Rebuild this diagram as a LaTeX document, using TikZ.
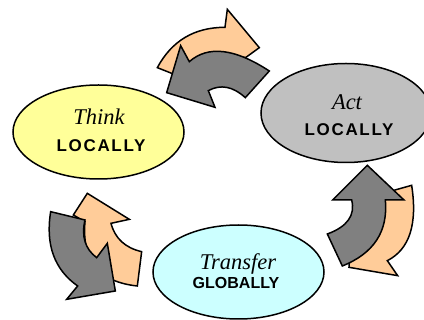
\documentclass[tikz,border=0pt]{standalone}
\usepackage{fontspec}
\setmainfont{Liberation Serif}
\newfontfamily\labelsans{Liberation Sans}
\newfontfamily\labelsansS[LetterSpace=10]{Liberation Sans}
\usetikzlibrary{shapes.geometric,calc}
\newcommand\qcurve[3]{.. controls ($(#1)!0.6667!(#2)$) and ($(#3)!0.6667!(#2)$) .. (#3)}
\tikzset{
  bubble/.style={ellipse,draw=black,line width=1.5pt,inner sep=0pt},
  verbtext/.style={anchor=base,inner sep=0pt,font=\fontsize{22.5}{24}\selectfont\itshape},
  scopetext/.style={anchor=base,inner sep=0pt,font=\fontsize{17}{19}\labelsansS\bfseries},
  globaltext/.style={anchor=base,inner sep=0pt,font=\fontsize{16}{18}\labelsans\bfseries},
  arrowshape/.style={draw=black,line width=1.5pt,line join=miter},
  peach/.style={arrowshape,fill=peachc},
  slate/.style={arrowshape,fill=slatec},
  zoomed/.style={x=0.3333pt,y=-0.3333pt}
}
\definecolor{peachc}{HTML}{FFCC99}
\definecolor{slatec}{HTML}{808080}
\definecolor{thinkc}{HTML}{FFFF99}
\definecolor{actc}{HTML}{C0C0C0}
\definecolor{transc}{HTML}{CCFFFF}
\begin{document}
\begin{tikzpicture}[x=1pt,y=-1pt]
\useasboundingbox (0,0) rectangle (424,320);
% ellipses
\node[bubble,fill=thinkc,minimum width=171pt,minimum height=94pt] (think) at (98.5,132) {};
\node[bubble,fill=actc,minimum width=170pt,minimum height=99pt] (act) at (346,113) {};
\node[bubble,fill=transc,minimum width=171pt,minimum height=94pt] (transfer) at (238.5,272) {};
\node[verbtext] (t1) at (99,125) {Think};
\node[scopetext] (t2) at (101,152) {LOCALLY};
\node[verbtext] (a1) at (347,110) {Act};
\node[scopetext] (a2) at (349,136) {LOCALLY};
\node[verbtext] (r1) at (238,270) {Transfer};
\node[globaltext] (r2) at (236,289) {GLOBALLY};
% top arrows
\begin{scope}[shift={(140,0)},zoomed]
\draw[peach] (52,203) \qcurve{52,203}{117,82}{255,82} -- (262,28) -- (358,143) -- (318,172)
  \qcurve{318,172}{210,170}{100,222} -- cycle;
\draw[slate] (122,137) -- (148,185) \qcurve{148,185}{232,111}{388,213} -- (316,293)
  \qcurve{316,293}{260,242}{205,272} -- (225,322) -- (80,278) -- cycle;
\end{scope}
% left arrows
\begin{scope}[shift={(30,180)},zoomed]
\draw[peach] (172,40) -- (298,118) -- (243,130) \qcurve{243,130}{261,198}{335,215} -- (322,318)
  \qcurve{322,318}{150,300}{165,125} -- (130,105) -- cycle;
\draw[slate] (62,95) -- (165,120) \qcurve{165,120}{148,194}{200,233} -- (232,190) -- (256,333)
  -- (110,358) -- (143,318) \qcurve{143,318}{38,244}{62,95} -- cycle;
\end{scope}
% right arrows
\begin{scope}[shift={(310,150)},zoomed]
\draw[peach] (255,120) -- (305,106) \qcurve{305,106}{332,281}{232,332} -- (263,377) -- (117,352)
  -- (118,335) \qcurve{118,335}{200,270}{200,150} -- cycle;
\draw[slate] (172,46) -- (282,150) -- (226,150) \qcurve{226,150}{239,291}{97,348} -- (52,252)
  \qcurve{52,252}{142,219}{125,150} -- (68,150) -- cycle;
\end{scope}
\end{tikzpicture}
\end{document}
